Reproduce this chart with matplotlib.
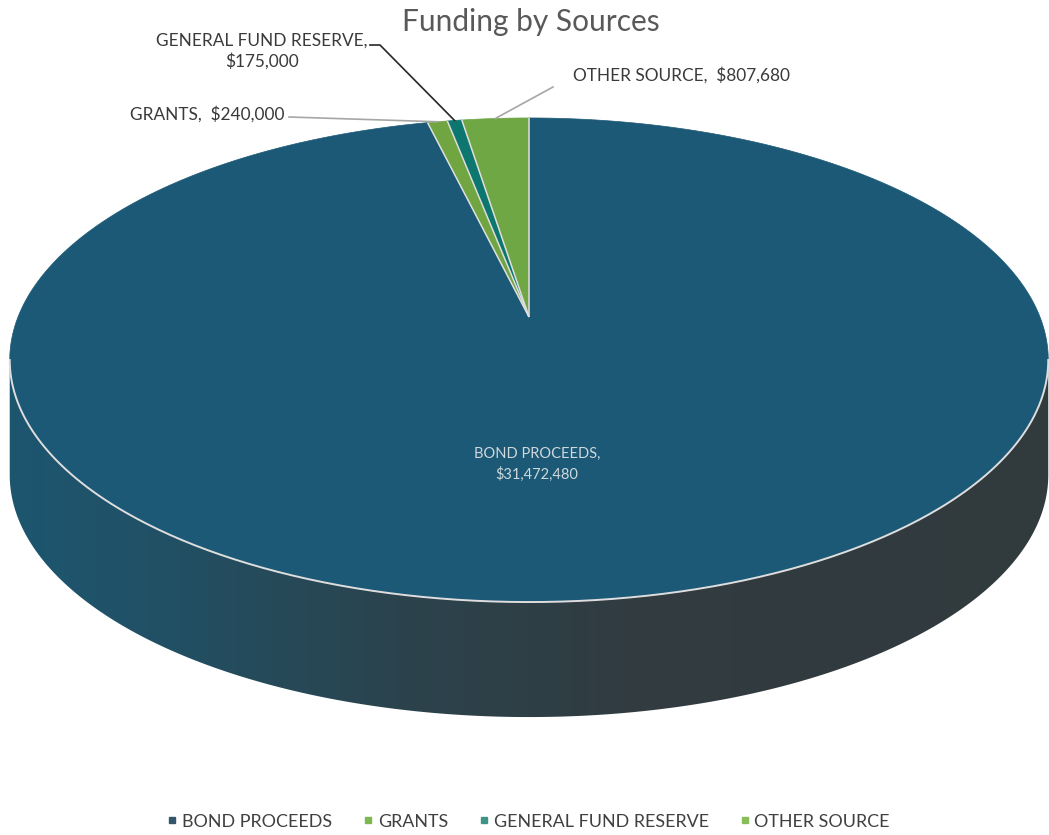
import matplotlib.pyplot as plt
import numpy as np
from matplotlib.lines import Line2D
from matplotlib.patches import Polygon
from matplotlib.colors import LinearSegmentedColormap

plt.rcParams["font.family"] = ["Lato", "DejaVu Sans"]

# funding sources and amounts
sources = ["BOND PROCEEDS", "GRANTS", "GENERAL FUND RESERVE", "OTHER SOURCE"]
amounts = [31472480, 240000, 175000, 807680]
top_colors = ["#1c5976", "#70a541", "#0d776f", "#6fa744"]
legend_colors = ["#33566b", "#7cb84f", "#3f9488", "#86bd58"]

# pie geometry in pixel units (tilted disc with a little perspective)
cx, cy = 529, 317
rx, ry = 511, 234.4
persp = 0.1777
depth = 115
rim = "#dedede"


def project(t, drop=0.0):
    """Map angle t (radians) on the unit circle to screen pixels."""
    X, Y = np.cos(t), np.sin(t)
    w = 1 + persp * Y
    return cx + rx * X / w, cy - ry * Y / w + drop


fig = plt.figure(figsize=(10.49, 8.35), dpi=100)
ax = fig.add_axes([0, 0, 1, 1])
ax.set_xlim(0, 1049)
ax.set_ylim(835, 0)
ax.axis("off")

# side wall: front half between the two silhouette points
t_sil = np.arcsin(persp)
ts = np.linspace(np.pi + t_sil, 2 * np.pi - t_sil, 300)
ux, uy = project(ts)
bx, by = project(ts, depth)
side = Polygon(np.column_stack([np.r_[ux, bx[::-1]], np.r_[uy, by[::-1]]]),
               closed=True, facecolor="none", edgecolor="none")
ax.add_patch(side)
side_cmap = LinearSegmentedColormap.from_list(
    "side", [(0, "#1d5670"), (0.12, "#205268"), (0.38, "#2b434d"), (0.6, "#313c41"), (1, "#323a3d")])
grad = np.linspace(0, 1, 512)[None, :]
img = ax.imshow(grad, cmap=side_cmap, extent=[0, 1049, 760, 300], aspect="auto", zorder=1)
img.set_clip_path(side)

# top face wedges, drawn clockwise from 12 o'clock
fracs = np.array(amounts) / sum(amounts)
start = np.pi / 2
edge_pts = []
bounds = [start]
for frac, col in zip(fracs, top_colors):
    end = start - 2 * np.pi * frac
    tt = np.linspace(start, end, max(int(abs(end - start) * 200), 4))
    px, py = project(tt)
    poly = Polygon(np.column_stack([np.r_[cx, px], np.r_[cy, py]]), closed=True,
                   facecolor=col, edgecolor=col, linewidth=0.5, zorder=2)
    ax.add_patch(poly)
    edge_pts.append(project((start + end) / 2))
    bounds.append(end)
    start = end

# thin light separators between slices and along the front rim
for b in bounds[1:]:
    sx, sy = project(b)
    ax.plot([cx, sx], [cy, sy], color=rim, lw=1.1, zorder=3, solid_capstyle="butt")
ax.plot(ux, uy, color=rim, lw=1.4, zorder=3)

label_color = "#3a3a3a"
fs = 12.4

# data labels and leader lines
ax.text(537, 464, "BOND PROCEEDS,\n$31,472,480", ha="center", va="center",
        color="#cfd8dc", fontsize=10.5, linespacing=1.5, zorder=3)

gx, gy = edge_pts[1]
ax.plot([289, gx], [117, gy], color="#a6a6a6", lw=1.2, zorder=3)
ax.text(285, 114, "GRANTS,  $240,000", ha="right", va="center",
        color=label_color, fontsize=fs, zorder=3)

fx, fy = edge_pts[2]
ax.plot([370, 380, fx], [45, 45, fy], color="#262626", lw=1.2, zorder=3)
ax.text(262, 51, "GENERAL FUND RESERVE,\n$175,000", ha="center", va="center",
        color=label_color, fontsize=fs, linespacing=1.25, zorder=3)

ox, oy = edge_pts[3]
ax.plot([553, ox], [87, oy], color="#a6a6a6", lw=1.2, zorder=3)
ax.text(573, 75, "OTHER SOURCE,  $807,680", ha="left", va="center",
        color=label_color, fontsize=fs, zorder=3)

ax.text(531, 22, "Funding by Sources", ha="center", va="center",
        color="#595959", fontsize=21.5)

handles = [Line2D([], [], marker="s", linestyle="none", markersize=5,
                  markerfacecolor=c, markeredgecolor=c) for c in legend_colors]
fig.legend(handles, sources, loc="center", bbox_to_anchor=(0.504, 0.016), ncol=4,
           frameon=False, fontsize=12.9, handlelength=0.5, handletextpad=0.3,
           columnspacing=1.75, labelcolor="#404040")

fig.savefig("out.png", dpi=100)
